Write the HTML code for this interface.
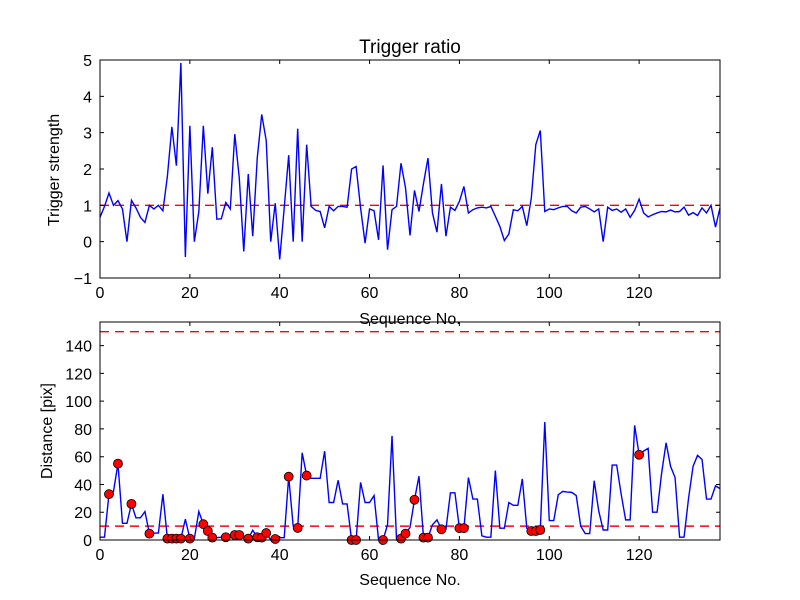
<!DOCTYPE html>
<html><head><meta charset="utf-8"><style>
html,body{margin:0;padding:0;background:#fff;}
svg{display:block;font-family:"Liberation Sans",sans-serif;}
</style></head><body>
<svg id="chart" width="800" height="600" viewBox="0 0 800 600" xmlns="http://www.w3.org/2000/svg">
<rect width="800" height="600" fill="#fff"/>
</svg>
<script>
const seqTicks = [0,20,40,60,80,100,120];
const strengthTicks = [-1,0,1,2,3,4,5];
const distanceTicks = [0,20,40,60,80,100,120,140];
const triggerStrength = [0.67,0.97,1.34,1.0,1.13,0.9,0.0,1.14,0.93,0.67,0.53,1.0,0.9,1.0,0.85,1.8,3.16,2.09,4.92,-0.42,
3.19,0.0,0.83,3.19,1.32,2.6,0.62,0.63,1.08,0.9,2.96,1.75,-0.27,1.86,0.15,2.3,3.5,2.78,0.0,1.06,
-0.49,0.93,2.38,0.0,3.11,0.0,2.67,0.97,0.86,0.83,0.38,0.97,0.85,0.97,0.97,0.95,2.0,2.07,0.93,-0.04,
0.9,0.85,0.05,2.1,-0.22,0.88,0.97,2.16,1.48,0.17,1.41,0.83,1.6,2.3,0.79,0.26,1.59,0.15,0.95,0.86,
1.11,1.52,0.79,0.88,0.93,0.95,0.93,0.97,0.7,0.42,0.03,0.21,0.88,0.85,0.97,0.44,1.2,2.67,3.06,0.83,
0.9,0.88,0.93,0.97,0.97,0.85,0.79,0.95,0.97,0.9,0.82,0.9,0.0,0.95,0.86,0.9,0.81,0.9,0.67,0.86,
1.17,0.79,0.68,0.74,0.79,0.83,0.82,0.87,0.82,0.83,0.95,0.73,0.8,0.72,0.93,0.79,1.0,0.4,0.93];
const distance = [2,2,33,35,55,12,12,26,16,16,20.5,4.6,5,5,33,1,1,1,1,15,
1,1,20.5,11.4,6.5,1.7,1.7,2,2,2,3.6,3.6,1,1,7,2,1.7,5,0,0.7,
1.7,1.7,45.6,10,8.7,62.8,46.4,44.4,44.4,44.4,64,27,27,43,26,26,0,0,41.5,27,
27,32,0,0,11,75,0.5,1,4.6,9,29,46,1.7,1.7,11,14.5,7.7,7.7,34,34,
8.5,8.5,45,29.5,29.5,3,2,2,50,8.5,8.5,27,25,25,44,8.5,6.5,6.5,7.2,85,
14,14,32.6,35,34.5,34.3,32,10,4.6,4.6,42.7,21,7.2,7.2,54,54,33,14.5,14.5,82.6,
61.4,64,66,20,20,48,70,53,45,2,2,30,53,61,58,29.5,29.5,39,37];
const markerIdx = [2,4,7,11,15,16,17,18,20,23,24,25,28,30,31,33,35,36,37,39,42,44,46,56,57,63,67,68,70,72,73,76,80,81,96,97,98,120];
const strengthThreshold = [1];
const distanceThresholds = [10,150];

const NS="http://www.w3.org/2000/svg";
const svgEl=document.getElementById('chart');
function mk(tag,attrs,parent){const e=document.createElementNS(NS,tag);for(const k in attrs)e.setAttribute(k,attrs[k]);(parent||svgEl).appendChild(e);return e;}
const L=100,R=720,XMAX=138;
function xs(v){return L+(R-L)*v/XMAX;}
const topAx={t:60,b:278,min:-1,max:5};
const botAx={t:322,b:540,min:0,max:157};
function ys(ax,v){return ax.b-(ax.b-ax.t)*(v-ax.min)/(ax.max-ax.min);}

function axes(ax,yTicks,name){
  const g=mk('g',{});
  
  
  seqTicks.forEach(t=>{
    const x=xs(t);
    const tk=mk('path',{d:`M${x},${ax.b}v-4M${x},${ax.t}v4`,stroke:'#000','stroke-width':1},g);
    
    
    const lb=mk('text',{x:x,y:ax.b+20,'font-size':16,'text-anchor':'middle'},g);
    lb.textContent=t;
    
    
  });
  yTicks.forEach(t=>{
    const y=ys(ax,t);
    const tk=mk('path',{d:`M${L},${y}h4M${R},${y}h-4`,stroke:'#000','stroke-width':1},g);
    
    
    const lb=mk('text',{x:L-8,y:y+6,'font-size':16,'text-anchor':'end'},g);
    lb.textContent=(t<0?'\u2212'+(-t):t);
    
    
  });
  return g;
}
function series(ax,vals,name){
  const d=vals.map((v,i)=>(i?'L':'M')+xs(i).toFixed(2)+','+ys(ax,v).toFixed(2)).join('');
  const p=mk('path',{d:d,fill:'none',stroke:'#0000ff','stroke-width':1.4,'stroke-linejoin':'miter'});
  
  
}
function hline(ax,v,name){
  const y=ys(ax,v);
  const p=mk('line',{x1:L,x2:R,y1:y,y2:y,stroke:'#ff0000','stroke-width':1.4,'stroke-dasharray':'9,6'});
  
  
}
function frame(ax,name){
  const f=mk('rect',{x:L,y:ax.t,width:R-L,height:ax.b-ax.t,fill:'none',stroke:'#000','stroke-width':1});
  
  
}

strengthThreshold.forEach(v=>hline(topAx,v,'strength-threshold-line'));
series(topAx,triggerStrength,'trigger-strength-line');
axes(topAx,strengthTicks,'top-axes');
frame(topAx,'top-plot-frame');

distanceThresholds.forEach(v=>hline(botAx,v,'distance-threshold-line'));
series(botAx,distance,'distance-line');
const mg=mk('g',{});


markerIdx.forEach(i=>{
  const c=mk('circle',{cx:xs(i),cy:ys(botAx,distance[i]),r:4.5,fill:'#ff0000',stroke:'#000','stroke-width':0.8},mg);
  
  
});
axes(botAx,distanceTicks,'bottom-axes');
frame(botAx,'bottom-plot-frame');

function text(x,y,s,size,name,rot){
  const t=mk('text',{x:x,y:y,'font-size':size,'text-anchor':'middle'});
  if(rot)t.setAttribute('transform',`rotate(-90 ${x} ${y})`);
  t.textContent=s;
  
  
}
text(410,53,'Trigger ratio',19,'chart-title');
text(410,324,'Sequence No.',16,'top-x-axis-title');
text(410,585,'Sequence No.',16,'bottom-x-axis-title');
text(59,170,'Trigger strength',16,'top-y-axis-title',true);
text(52,431,'Distance [pix]',16,'bottom-y-axis-title',true);
</script>
</body></html>
